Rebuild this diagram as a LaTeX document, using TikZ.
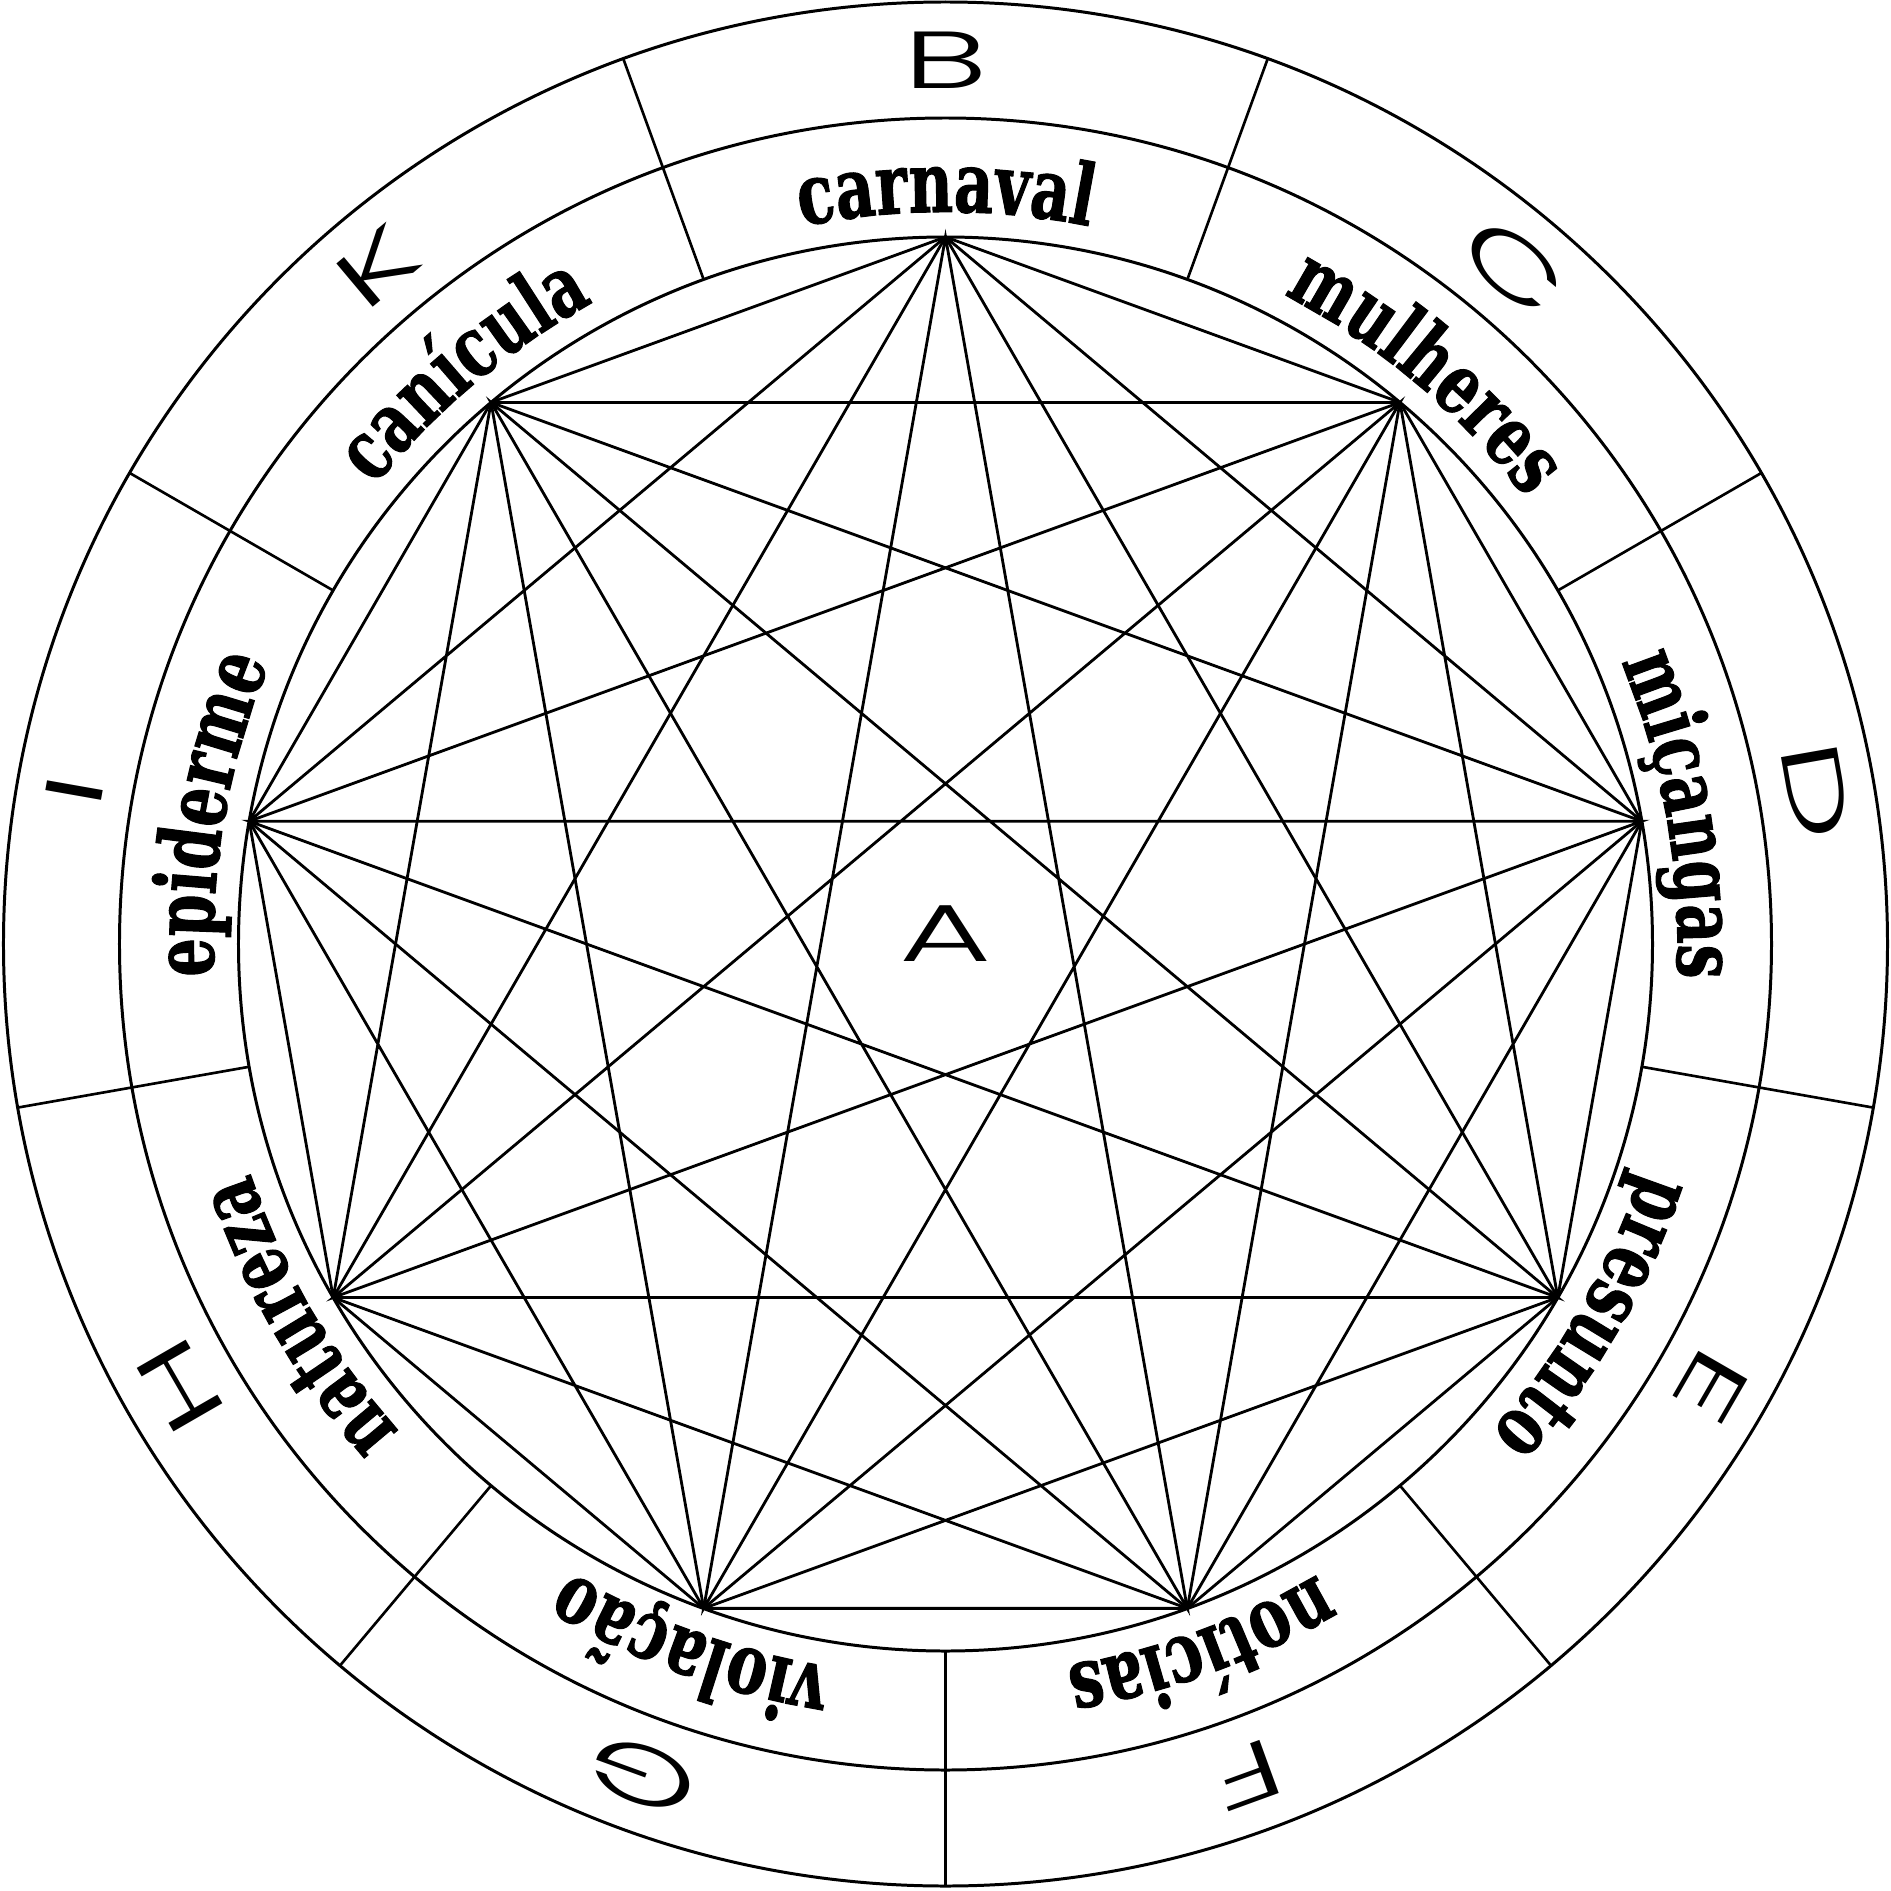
\documentclass[tikz,border=0pt]{standalone}
\usepackage{fontspec}
\usetikzlibrary{decorations.text}

\IfFontExistsTF{Poppins Light}
  {\newfontfamily\capfont{Poppins Light}[FakeStretch=1.75]}
  {\newfontfamily\capfont{Poppins}[FakeStretch=1.75]}
\newfontfamily\gothfont{DejaVu Serif}[FakeStretch=0.72, BoldFeatures={FakeBold=1.2}]
\newcommand\wordfont{\gothfont\bfseries\fontsize{24}{28}\selectfont}
\newcommand\ringword[2]{%
  \path[decorate, decoration={text along path, text align=center,
    text={|\wordfont|#2}}]
    ({#1+30}:7.32) arc[start angle={#1+30}, end angle={#1-30}, radius=7.32];}

\begin{document}
\begin{tikzpicture}[line width=0.8pt,
    letter/.style={inner sep=0pt, font=\capfont\fontsize{23}{23}\selectfont}]
    \useasboundingbox (-9.455,-9.46) rectangle (9.455,9.44);
    \coordinate (V1) at (90:7.07);
    \coordinate (V2) at (50:7.07);
    \coordinate (V3) at (10:7.07);
    \coordinate (V4) at (-30:7.07);
    \coordinate (V5) at (-70:7.07);
    \coordinate (V6) at (-110:7.07);
    \coordinate (V7) at (-150:7.07);
    \coordinate (V8) at (170:7.07);
    \coordinate (V9) at (130:7.07);

    \draw[line width=0.85pt] (0,0) circle (9.42); % outer
    \draw[line width=0.85pt] (0,0) circle (8.26); % middle
    \draw[line width=0.85pt] (0,0) circle (7.07); % inner

    % ring dividers
    \draw[line width=0.75pt] (70:7.07) -- (70:9.42) (30:7.07) -- (30:9.42) (-10:7.07) -- (-10:9.42);
    \draw[line width=0.75pt] (-50:7.07) -- (-50:9.42) (-90:7.07) -- (-90:9.42) (-130:7.07) -- (-130:9.42);
    \draw[line width=0.75pt] (-170:7.07) -- (-170:9.42) (150:7.07) -- (150:9.42) (110:7.07) -- (110:9.42);

    \draw (V1) -- (V2) -- (V3) -- (V4) -- (V5) -- (V6) -- (V7) -- (V8) -- (V9) -- cycle; % 9/1
    \draw (V1) -- (V3) -- (V5) -- (V7) -- (V9) -- (V2) -- (V4) -- (V6) -- (V8) -- cycle; % 9/2
    \draw (V1) -- (V4) -- (V7) -- cycle; % 9/3
    \draw (V2) -- (V5) -- (V8) -- cycle;
    \draw (V3) -- (V6) -- (V9) -- cycle;
    \draw (V1) -- (V5) -- (V9) -- (V4) -- (V8) -- (V3) -- (V7) -- (V2) -- (V6) -- cycle; % 9/4

    \node[letter] (A) at (0,0.1) {A};
    \node[letter, rotate=0] (B) at (90:8.84) {B};
    \node[letter, rotate=-40] (C) at (50:8.84) {C};
    \node[letter, rotate=-80] (D) at (10:8.84) {D};
    \node[letter, rotate=-120] (E) at (-30:8.84) {E};
    \node[letter, rotate=-160] (F) at (-70:8.84) {F};
    \node[letter, rotate=160] (G) at (-110:8.84) {G};
    \node[letter, rotate=120] (H) at (-150:8.84) {H};
    \node[letter, rotate=80] (I) at (170:8.84) {I};
    \node[letter, rotate=40] (K) at (130:8.84) {K};

    \ringword{90}{carnaval}
    \ringword{50}{mulheres}
    \ringword{10}{mi{ç}angas}
    \ringword{-30}{presunto}
    \ringword{-70}{not{í}cias}
    \ringword{-110}{viola{ç}{ã}o}
    \ringword{-150}{natureza}
    \ringword{170}{epiderme}
    \ringword{130}{can{í}cula}
\end{tikzpicture}
\end{document}
